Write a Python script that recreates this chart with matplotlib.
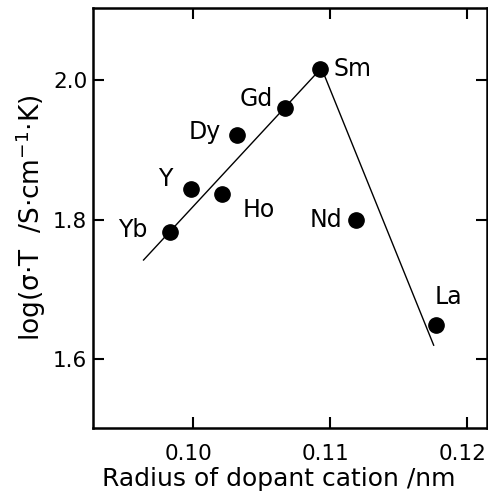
import matplotlib
matplotlib.use("Agg")
import matplotlib.pyplot as plt
import matplotlib.transforms as mtransforms

# dopant cations: ionic radius (nm) vs log(sigma*T)
elements = ["Yb", "Y", "Ho", "Dy", "Gd", "Sm", "Nd", "La"]
radius = [0.0983, 0.0999, 0.1021, 0.1032, 0.1067, 0.1093, 0.1119, 0.1178]
log_sigma_t = [1.782, 1.844, 1.837, 1.921, 1.960, 2.016, 1.799, 1.649]

# guide lines drawn through the data
left_line_x = [0.0964, 0.1094]
left_line_y = [1.742, 2.017]
right_line_x = [0.1094, 0.1176]
right_line_y = [2.017, 1.620]

# label offsets in points (dx, dy, ha)
label_pos = {
    "Yb": (-16, 1.5, "right"),
    "Y": (-13.5, 7, "right"),
    "Ho": (15, -12, "left"),
    "Dy": (-11, 2, "right"),
    "Gd": (-8.5, 6.5, "right"),
    "Sm": (10, 0, "left"),
    "Nd": (-9.5, 0, "right"),
    "La": (-1, 20, "left"),
}

plt.rcParams["mathtext.default"] = "regular"
plt.rcParams["font.family"] = "DejaVu Sans"

fig = plt.figure(figsize=(4.89, 4.98), dpi=100)
ax = fig.add_axes([0.190, 0.140, 0.806, 0.844])

ax.plot(left_line_x, left_line_y, color="black", linewidth=1.0)
ax.plot(right_line_x, right_line_y, color="black", linewidth=1.0)
ax.plot(radius, log_sigma_t, "o", color="black", markersize=11, zorder=5)

for name, x, y in zip(elements, radius, log_sigma_t):
    dx, dy, ha = label_pos[name]
    ax.annotate(name, (x, y), textcoords="offset points", xytext=(dx, dy),
                ha=ha, va="center", fontsize=17)

ax.set_xlim(0.0927, 0.1215)
ax.set_ylim(1.501, 2.103)
ax.set_xticks([0.10, 0.11, 0.12])
ax.set_xticklabels(["0.10", "0.11", "0.12"])
ax.set_yticks([1.6, 1.8, 2.0])
ax.set_yticklabels(["1.6", "1.8", "2.0"])

ax.tick_params(direction="in", length=8, width=1.5, top=True, right=True, labelsize=15.5)
ax.tick_params(axis="x", pad=11)
ax.tick_params(axis="y", pad=4)
for spine in ax.spines.values():
    spine.set_linewidth(1.8)

# x tick labels sit a little left of their ticks in the original
shift = mtransforms.ScaledTranslation(-4 / 100, 0, fig.dpi_scale_trans)
for lbl in ax.get_xticklabels():
    lbl.set_transform(lbl.get_transform() + shift)

ax.set_xlabel("Radius of dopant cation /nm", fontsize=18)
ax.xaxis.set_label_coords(0.472, -0.093)
ax.set_ylabel(r"log($\sigma$·T  /S·cm$^{-1}$·K)", fontsize=19, labelpad=4)

fig.savefig("out.png", dpi=100)
